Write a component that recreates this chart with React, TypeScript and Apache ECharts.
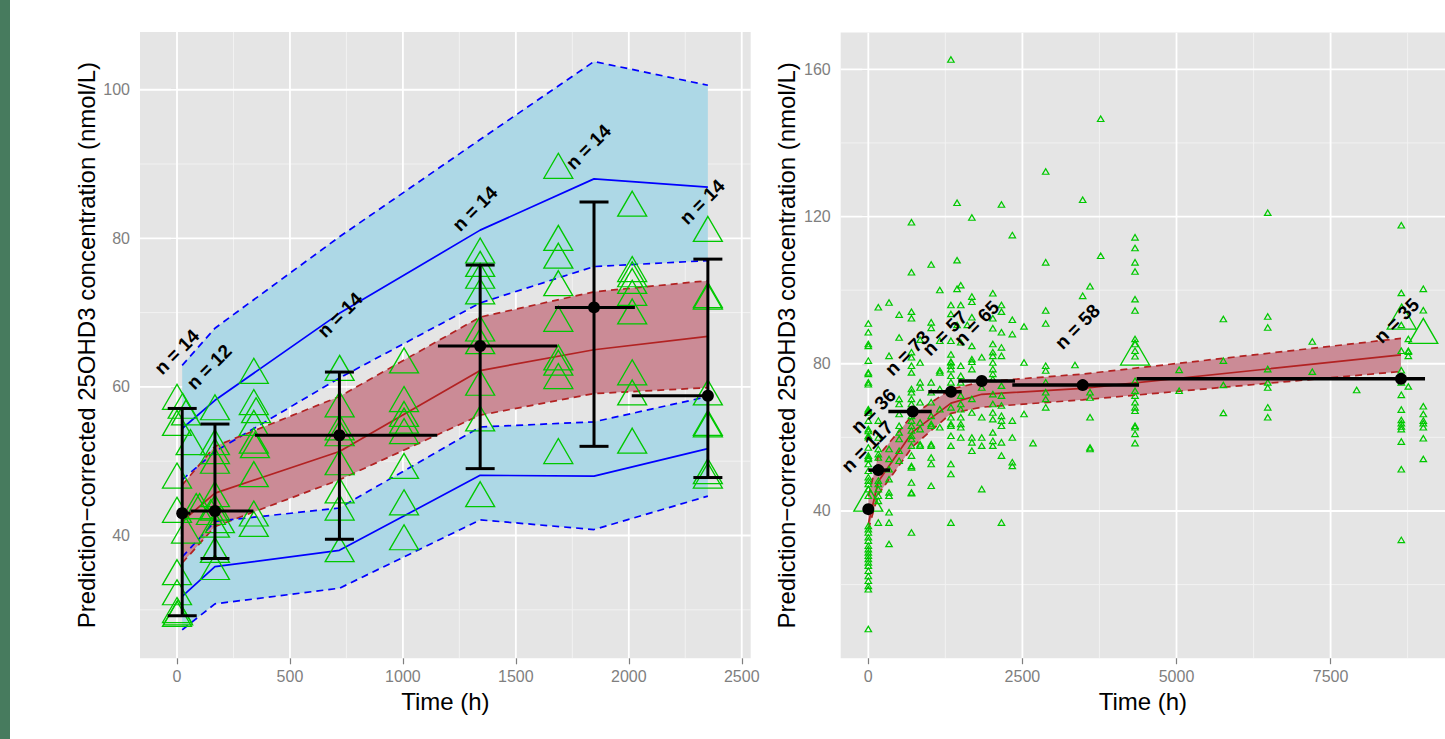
import React, { useEffect, useRef } from 'react';
import * as echarts from 'echarts';

// ---------------- LEFT PANEL DATA ----------------
const L_BIN_X = [23, 168, 719, 1342, 1846, 2350];
const L_PI_HI_UP = [62.9, 67.9, 80.2, 93.3, 103.8, 100.6];
const L_PI_HI_LO = [47.5, 51.3, 61.2, 71.3, 76.2, 77.0];
const L_OBS_HI = [54.4, 58.2, 69.9, 81.1, 88.0, 86.9];
const L_MED_UP = [46.8, 52.0, 58.7, 69.4, 72.8, 74.3];
const L_OBS_MED = [41.9, 45.7, 51.3, 62.2, 65.0, 66.8];
const L_MED_LO = [36.3, 41.2, 47.5, 56.2, 59.1, 59.9];
const L_PI_LO_UP = [37.1, 41.9, 43.7, 54.6, 55.3, 58.7];
const L_OBS_LO = [31.8, 35.8, 38.0, 48.1, 48.0, 51.7];
const L_PI_LO_LO = [27.3, 30.8, 32.9, 42.1, 40.8, 45.3];

const L_MED = [43.0, 43.3, 53.5, 65.5, 70.7, 58.8];
const L_CI_HI = [57.1, 55.0, 62.0, 76.4, 84.9, 77.2];
const L_CI_LO = [29.2, 36.9, 39.5, 49.0, 52.0, 47.8];
const L_BIN_MIN = [0, 60, 345, 1155, 1673, 2013];
const L_BIN_MAX = [60, 338, 1152, 1683, 2027, 2350];

const L_N_TEXT = ['n = 14', 'n = 12', 'n = 14', 'n = 14', 'n = 14', 'n = 14'];
const L_N_X = [-1, 142, 721, 1319, 1821, 2325];
const L_N_Y = [64.7, 62.7, 69.7, 84.0, 92.3, 84.9];

const L_OBS = [
  [0, 58.1], [25, 56.9], [40, 56.0], [0, 54.6], [60, 52.0], [0, 47.5], [0, 42.9], [85, 43.4], [40, 40.1],
  [0, 34.5], [0, 31.8], [0, 29.4], [5, 29.1], [0, 28.9],
  [168, 56.7], [168, 52.0], [168, 50.8], [168, 49.5], [168, 45.0], [168, 43.2], [150, 42.6], [168, 40.9],
  [100, 43.4], [168, 37.5], [168, 35.2], [190, 41.5],
  [340, 61.6], [340, 57.4], [350, 56.3], [340, 54.6], [340, 52.2], [345, 51.6], [340, 47.7], [340, 42.4], [340, 41.0],
  [720, 62.0], [720, 57.1], [720, 54.0], [720, 53.2], [720, 49.3], [720, 45.5], [720, 43.2], [720, 37.6],
  [1005, 63.0], [1005, 57.8], [1005, 55.8], [1005, 54.9], [1005, 53.5], [1005, 48.8], [1005, 43.9], [1005, 39.2],
  [1342, 77.8], [1342, 76.0], [1342, 74.4], [1342, 72.3], [1342, 67.3], [1342, 65.6], [1342, 60.0], [1342, 55.2], [1342, 45.0],
  [1688, 89.2], [1688, 79.5], [1688, 77.1], [1688, 73.4], [1688, 68.6], [1688, 63.4], [1688, 62.7], [1688, 60.9], [1688, 50.8],
  [2015, 84.1], [2015, 75.3], [2015, 74.6], [2015, 73.7], [2015, 72.1], [2015, 69.6], [2015, 61.4], [2015, 58.7], [2015, 52.2],
  [2350, 80.7], [2350, 71.8], [2350, 71.6], [2350, 58.7], [2350, 54.6], [2350, 54.4], [2350, 48.1], [2350, 47.5],
];

// ---------------- RIGHT PANEL DATA ----------------
const R_BIN_X = [0, 162, 720, 1342, 1840, 3478, 8642];
const R_MED = [40.5, 51.1, 67.0, 72.4, 75.3, 74.2, 75.9];
const R_BIN_MIN = [0, 0, 325, 974, 1460, 2336, 4354];
const R_BIN_MAX = [0, 352, 1028, 1515, 2380, 4392, 9032];
const R_MED_UP = [44.0, 55.0, 66.1, 73.1, 75.1, 77.2, 86.9];
const R_OBS_MED = [36.5, 48.0, 61.5, 69.3, 71.7, 73.3, 82.4];
const R_MED_LO = [35.0, 44.5, 57.5, 66.5, 68.2, 70.2, 77.9];

const R_N_TEXT = ['n = 117', 'n = 36', 'n = 73', 'n = 57', 'n = 65', 'n = 58', 'n = 35'];
const R_N_X = [-16, 81, 633, 1244, 1758, 3391, 8572];
const R_N_Y = [57.5, 67.2, 82.9, 88.3, 91.0, 90.1, 91.7];

const R_OBS_TIMES = [0, 162, 336, 500, 700, 840, 1020, 1160, 1340, 1440, 1500, 1606, 1680, 1840, 2020, 2160, 2336,
  2526, 2672, 2878, 3353, 3478, 3597, 3770, 4327, 5043, 5760, 6480, 7203, 7923, 8647, 8761, 9004];
const R_OBS_CONCS = [
  [90.7, 88.3, 85.1, 84.6, 80.6, 77.4, 77.0, 74.7, 74.2, 67.4, 67.0, 66.5, 64.3, 62.0, 61.5, 60.2, 59.8, 57.0, 54.8,
    54.3, 53.9, 52.5, 50.7, 48.9, 48.0, 47.1, 45.7, 43.9, 35.7, 34.8, 33.9, 32.6, 31.7, 30.3, 29.4, 28.5, 27.6, 26.7,
    25.8, 24.9, 23.5, 22.1, 20.8, 19.4, 18.5, 7.7],
  [95.1, 64.3, 59.7, 56.6, 55.2, 54.3, 48.0, 47.1, 45.7, 43.9, 42.5, 36.6],
  [96.4, 81.9, 56.6, 53.9, 51.1, 48.4, 44.8, 43.9, 39.4, 36.6, 30.8],
  [93.1, 86.9, 70.2, 68.8, 66.1, 62.9, 61.1, 59.3, 56.1, 53.4],
  [118.2, 104.6, 93.9, 92.1, 82.9, 81.5, 79.2, 77.4, 72.9, 72.0, 70.2, 68.8, 65.6, 64.3, 62.9, 61.6, 60.2, 59.3, 57.5,
    54.8, 52.0, 51.6, 47.5, 44.8, 44.6, 33.9],
  [86.3, 80.1, 74.7, 73.3, 69.3, 63.8, 62.0, 57.9, 57.5],
  [106.7, 91.0, 89.5, 74.7, 72.0, 69.3, 65.6, 63.4, 62.9, 57.9, 57.5, 54.3, 52.5, 46.6],
  [99.8, 86.0, 77.4, 77.9, 72.9, 67.4, 62.5],
  [162.4, 95.7, 93.3, 86.0, 82.3, 80.3, 79.2, 78.3, 80.1, 76.5, 74.7, 72.4, 67.9, 65.2, 63.4, 62.9, 60.2, 57.5, 52.5, 49.8, 36.6],
  [123.5, 107.9, 100.1, 90.3],
  [101.1, 95.7, 85.6, 79.2, 76.5, 74.7, 71.1, 68.8, 67.4, 65.2, 63.4, 62.5, 59.7],
  [90.3],
  [119.5, 98.0, 96.6, 92.4, 84.6, 81.0, 80.3, 78.3, 70.2, 66.5, 59.7, 58.4, 56.1],
  [81.5, 73.3, 65.2, 59.7, 57.5, 45.7],
  [98.9, 92.1, 89.4, 85.1, 82.9, 81.9, 80.1, 78.3, 77.0, 75.6, 71.5, 68.8, 66.5, 64.7, 61.1, 58.8, 57.5],
  [123.0, 95.7, 93.9, 88.3, 84.2, 81.9, 73.8, 71.1, 68.4, 65.6, 64.3, 62.9, 58.4, 54.8, 36.6],
  [114.7, 91.7, 87.8, 64.3, 59.7, 53.0, 52.0],
  [89.9, 80.1, 66.1],
  [58.2],
  [132.0, 107.3, 94.2, 90.7, 79.2, 77.9, 74.7, 72.0, 70.2, 67.9],
  [79.4],
  [124.3, 98.2],
  [100.8, 72.0, 70.6, 65.2, 57.0, 56.6],
  [146.3, 109.1],
  [114.1, 111.2, 107.3, 104.8, 97.3, 94.2, 86.5, 85.1, 83.3, 81.8, 75.1, 72.4, 71.1, 69.3, 67.9, 67.0, 62.9, 62.5, 60.7, 58.2],
  [78.1, 72.4],
  [91.9, 80.6, 74.0, 66.4],
  [120.8, 92.6, 89.6, 78.3, 74.7, 73.3, 67.9, 65.2],
  [85.8, 77.6],
  [72.6],
  [117.4, 99.0, 90.3, 83.3, 78.0, 74.7, 71.3, 67.3, 64.5, 63.6, 62.7, 62.0, 58.6, 51.1, 31.9],
  [86.5, 83.3, 83.0, 81.9, 73.6],
  [100.1, 94.3, 68.2, 66.1, 64.3, 63.6, 62.5, 59.5, 53.9],
];
const R_BIG = [[0, 42.2], [4327, 81.9], [8653, 91.7], [9004, 87.8]];

// ---------------- AXES ----------------
const L_X_RANGE = [-163.8, 2539.6];
const L_Y_RANGE = [23.47, 107.77];
const R_X_RANGE = [-448, 9356];
const R_Y_RANGE = [0, 170];
const L_X_MAJOR = [0, 500, 1000, 1500, 2000, 2500];
const L_X_MINOR = [250, 750, 1250, 1750, 2250];
const L_Y_MAJOR = [40, 60, 80, 100];
const L_Y_MINOR = [30, 50, 70, 90];
const R_X_MAJOR = [0, 2500, 5000, 7500];
const R_X_MINOR = [1250, 3750, 6250, 8750];
const R_Y_MAJOR = [40, 80, 120, 160];
const R_Y_MINOR = [20, 60, 100, 140];

const FONT = 'Liberation Sans, Arial, Helvetica, sans-serif';
const GREEN = '#00C800';
const BLUE = '#0000FF';
const RED = '#B22222';
const LIGHTBLUE = '#ADD8E6';
const PINK = '#CB8B96';
const GREY = '#7F7F7F';
const DASH = [7, 5];

function gridLineSeries(idx: number, xr: number[], yr: number[], xMaj: number[], xMin: number[], yMaj: number[], yMin: number[]) {
  const data: number[][] = [];
  xMin.forEach((v) => data.push([0, v, 0]));
  yMin.forEach((v) => data.push([1, v, 0]));
  xMaj.forEach((v) => data.push([0, v, 1]));
  yMaj.forEach((v) => data.push([1, v, 1]));
  return {
    type: 'custom', xAxisIndex: idx, yAxisIndex: idx, z: 1, silent: true, clip: true,
    data,
    renderItem: (params: any, api: any) => {
      const cs = params.coordSys;
      const o = api.value(0), v = api.value(1), mj = api.value(2);
      const style = { stroke: mj ? '#FFFFFF' : '#F2F2F2', lineWidth: mj ? 1.8 : 1 };
      if (o === 0) {
        const p = api.coord([v, yr[0]]);
        return { type: 'line', shape: { x1: p[0], y1: cs.y, x2: p[0], y2: cs.y + cs.height }, style };
      }
      const p = api.coord([xr[0], v]);
      return { type: 'line', shape: { x1: cs.x, y1: p[1], x2: cs.x + cs.width, y2: p[1] }, style };
    },
  };
}

function bandSeries(idx: number, xs: number[], lo: number[], hi: number[], fill: string, z: number) {
  return {
    type: 'custom', xAxisIndex: idx, yAxisIndex: idx, z, silent: true, clip: true,
    data: [[xs[0], lo[0]]],
    renderItem: (params: any, api: any) => {
      const pts: number[][] = [];
      for (let i = 0; i < xs.length; i++) pts.push(api.coord([xs[i], hi[i]]));
      for (let i = xs.length - 1; i >= 0; i--) pts.push(api.coord([xs[i], lo[i]]));
      return { type: 'polygon', shape: { points: pts }, style: { fill } };
    },
  };
}

function lineSeries(idx: number, xs: number[], ys: number[], color: string, dashed: boolean, width: number) {
  return {
    type: 'line', xAxisIndex: idx, yAxisIndex: idx, z: 3, silent: true, symbol: 'none',
    data: xs.map((x, i) => [x, ys[i]]),
    lineStyle: { color, width, type: dashed ? DASH : 'solid', opacity: 1 },
  };
}

function barsSeries(idx: number, xs: number[], med: number[], lo: number[] | null, hi: number[] | null,
  bmin: number[], bmax: number[], lw: number) {
  return {
    type: 'custom', xAxisIndex: idx, yAxisIndex: idx, z: 5, silent: true, clip: true,
    data: xs.map((x, i) => [x, med[i], lo ? lo[i] : 0, hi ? hi[i] : 0, bmin[i], bmax[i]]),
    renderItem: (params: any, api: any) => {
      const x = api.value(0), m = api.value(1), l = api.value(2), h = api.value(3), x0 = api.value(4), x1 = api.value(5);
      const style = { stroke: '#000', lineWidth: lw };
      const children: any[] = [];
      if (lo && hi) {
        const pl = api.coord([x, l]);
        const ph = api.coord([x, h]);
        children.push({ type: 'line', shape: { x1: pl[0], y1: pl[1], x2: ph[0], y2: ph[1] }, style });
        children.push({ type: 'line', shape: { x1: pl[0] - 14.5, y1: pl[1], x2: pl[0] + 14.5, y2: pl[1] }, style });
        children.push({ type: 'line', shape: { x1: ph[0] - 14.5, y1: ph[1], x2: ph[0] + 14.5, y2: ph[1] }, style });
      }
      if (x1 > x0) {
        const a = api.coord([x0, m]);
        const b = api.coord([x1, m]);
        children.push({ type: 'line', shape: { x1: a[0], y1: a[1], x2: b[0], y2: b[1] }, style });
      }
      return { type: 'group', children };
    },
  };
}

function triSeries(idx: number, data: number[][], w: number, h: number, bw: number) {
  return {
    type: 'scatter', xAxisIndex: idx, yAxisIndex: idx, z: 4, silent: true,
    symbol: 'triangle', symbolSize: [w, h], symbolOffset: [0, -h / 6],
    itemStyle: { color: 'rgba(0,0,0,0)', borderColor: GREEN, borderWidth: bw, opacity: 1 },
    data,
  };
}

function pointSeries(idx: number, xs: number[], ys: number[], size: number) {
  return {
    type: 'scatter', xAxisIndex: idx, yAxisIndex: idx, z: 6, silent: true,
    symbol: 'circle', symbolSize: size, itemStyle: { color: '#000', opacity: 1 },
    data: xs.map((x, i) => [x, ys[i]]),
  };
}

function labelSeries(idx: number, texts: string[], xs: number[], ys: number[]) {
  return {
    type: 'scatter', xAxisIndex: idx, yAxisIndex: idx, z: 7, silent: true, symbolSize: 1,
    itemStyle: { color: 'rgba(0,0,0,0)', opacity: 1 },
    data: texts.map((t, i) => ({ name: t, value: [xs[i], ys[i]] })),
    label: {
      show: true, position: 'inside', rotate: 45, formatter: '{b}',
      fontSize: 19, fontWeight: 'bold', color: '#000000', fontFamily: FONT, opacity: 1,
      textBorderWidth: 0, textBorderColor: 'transparent', textShadowBlur: 0,
    },
  };
}

function xAxis(idx: number, range: number[], ticks: number[]) {
  return {
    type: 'value', gridIndex: idx, min: range[0], max: range[1],
    name: 'Time (h)', nameLocation: 'middle', nameGap: 23,
    nameTextStyle: { fontSize: 24, color: '#000', fontFamily: FONT },
    axisLine: { show: false },
    axisTick: { show: true, customValues: ticks, length: 6, lineStyle: { color: GREY, width: 1.2 } },
    axisLabel: { customValues: ticks, fontSize: 16, color: GREY, margin: 10, fontFamily: FONT, formatter: (v: number) => String(v) },
    splitLine: { show: false },
  };
}

function yAxis(idx: number, range: number[], ticks: number[]) {
  return {
    type: 'value', gridIndex: idx, min: range[0], max: range[1],
    name: 'Prediction\u2212corrected 25OHD3 concentration (nmol/L)', nameLocation: 'middle', nameGap: 42,
    nameTextStyle: { fontSize: 24, color: '#000', fontFamily: FONT },
    axisLine: { show: false },
    axisTick: { show: true, customValues: ticks, length: 6, lineStyle: { color: GREY, width: 1.2 } },
    axisLabel: { customValues: ticks, fontSize: 16, color: GREY, margin: 10, fontFamily: FONT, formatter: (v: number) => String(v) },
    splitLine: { show: false },
  };
}

const rightObs: number[][] = [];
R_OBS_TIMES.forEach((t, i) => R_OBS_CONCS[i].forEach((c) => rightObs.push([t, c])));

const option: any = {
  animation: false,
  backgroundColor: '#FFFFFF',
  textStyle: { fontFamily: FONT },
  graphic: [
    { type: 'rect', left: 0, top: 0, shape: { width: 10, height: 739 }, style: { fill: '#477B5E' }, z: 10 },
  ],
  grid: [
    { left: 140, top: 32, width: 610.7, height: 626.3, show: true, backgroundColor: '#E5E5E5', borderWidth: 0, containLabel: false },
    { left: 840.7, top: 32.5, width: 604.3, height: 625.7, show: true, backgroundColor: '#E5E5E5', borderWidth: 0, containLabel: false },
  ],
  xAxis: [xAxis(0, L_X_RANGE, L_X_MAJOR), xAxis(1, R_X_RANGE, R_X_MAJOR)],
  yAxis: [yAxis(0, L_Y_RANGE, L_Y_MAJOR), yAxis(1, R_Y_RANGE, R_Y_MAJOR)],
  series: [
    gridLineSeries(0, L_X_RANGE, L_Y_RANGE, L_X_MAJOR, L_X_MINOR, L_Y_MAJOR, L_Y_MINOR),
    gridLineSeries(1, R_X_RANGE, R_Y_RANGE, R_X_MAJOR, R_X_MINOR, R_Y_MAJOR, R_Y_MINOR),
    // left bands
    bandSeries(0, L_BIN_X, L_PI_HI_LO, L_PI_HI_UP, LIGHTBLUE, 2),
    bandSeries(0, L_BIN_X, L_PI_LO_LO, L_PI_LO_UP, LIGHTBLUE, 2),
    bandSeries(0, L_BIN_X, L_MED_LO, L_MED_UP, PINK, 2),
    lineSeries(0, L_BIN_X, L_PI_HI_UP, BLUE, true, 1.7),
    lineSeries(0, L_BIN_X, L_PI_HI_LO, BLUE, true, 1.7),
    lineSeries(0, L_BIN_X, L_OBS_HI, BLUE, false, 1.7),
    lineSeries(0, L_BIN_X, L_MED_UP, RED, true, 1.7),
    lineSeries(0, L_BIN_X, L_OBS_MED, RED, false, 1.7),
    lineSeries(0, L_BIN_X, L_MED_LO, RED, true, 1.7),
    lineSeries(0, L_BIN_X, L_PI_LO_UP, BLUE, true, 1.7),
    lineSeries(0, L_BIN_X, L_OBS_LO, BLUE, false, 1.7),
    lineSeries(0, L_BIN_X, L_PI_LO_LO, BLUE, true, 1.7),
    triSeries(0, L_OBS, 29, 25, 1.3),
    barsSeries(0, L_BIN_X, L_MED, L_CI_LO, L_CI_HI, L_BIN_MIN, L_BIN_MAX, 3),
    pointSeries(0, L_BIN_X, L_MED, 12),
    labelSeries(0, L_N_TEXT, L_N_X, L_N_Y),
    // right
    bandSeries(1, R_BIN_X, R_MED_LO, R_MED_UP, PINK, 2),
    lineSeries(1, R_BIN_X, R_MED_UP, RED, true, 1.7),
    lineSeries(1, R_BIN_X, R_OBS_MED, RED, false, 1.7),
    lineSeries(1, R_BIN_X, R_MED_LO, RED, true, 1.7),
    triSeries(1, rightObs, 6.5, 5.5, 1.2),
    triSeries(1, R_BIG, 29, 25, 1.3),
    barsSeries(1, R_BIN_X, R_MED, null, null, R_BIN_MIN, R_BIN_MAX, 3.5),
    pointSeries(1, R_BIN_X, R_MED, 12),
    labelSeries(1, R_N_TEXT, R_N_X, R_N_Y),
  ],
};

export default function App() {
  const ref = useRef<HTMLDivElement>(null);
  useEffect(() => {
    const chart = echarts.init(ref.current as HTMLDivElement, null, { renderer: 'svg' });
    chart.setOption(option);
    return () => chart.dispose();
  }, []);
  return (
    <div style={{ position: 'absolute', left: 0, top: 0, width: 1445, height: 739, background: '#fff' }}>
      <div ref={ref} style={{ width: 1445, height: 739 }} />
    </div>
  );
}
